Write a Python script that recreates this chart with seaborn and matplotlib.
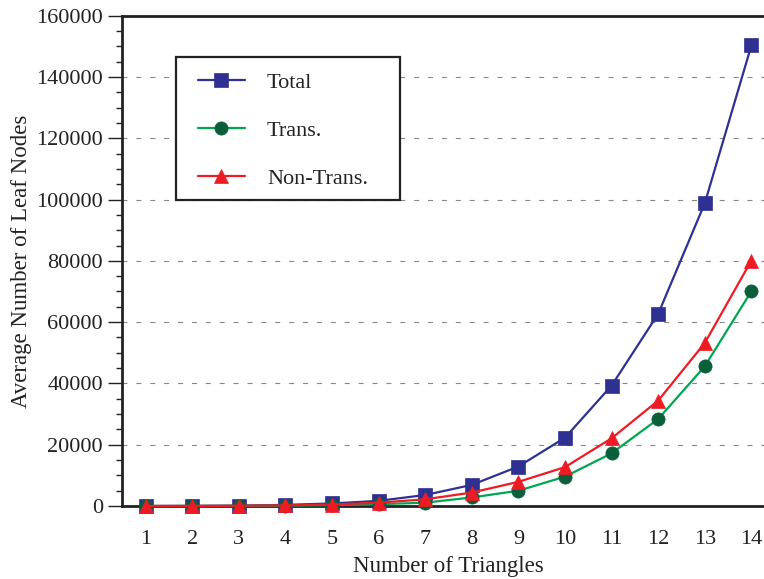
import matplotlib
matplotlib.use("Agg")
import matplotlib.pyplot as plt
import matplotlib.ticker as mticker
from matplotlib.patches import Rectangle
import seaborn as sns
import pandas as pd

# ---- data ----
triangles = [1, 2, 3, 4, 5, 6, 7, 8, 9, 10, 11, 12, 13, 14]
total = [20, 60, 150, 380, 850, 1700, 3600, 6900, 12900, 22300, 39300, 62700, 98800, 150300]
trans = [5, 20, 50, 130, 300, 600, 1100, 2800, 5000, 9600, 17200, 28400, 45600, 70100]
non_trans = [10, 40, 90, 230, 500, 1100, 2200, 4400, 7900, 12700, 22100, 34400, 53200, 80100]
series_names = ["Total", "Trans.", "Non-Trans."]
y_ticks = [0, 20000, 40000, 60000, 80000, 100000, 120000, 140000, 160000]

sns.set_theme(style="white")
plt.rcParams["font.family"] = ["Liberation Serif", "DejaVu Serif"]

fig = plt.figure(figsize=(7.64, 5.79), dpi=100)
ax = fig.add_axes([0.1601, 0.126, 0.8539, 0.847])

styles = [
    dict(color="#2E3192", marker="s", markerfacecolor="#2E3192", markeredgecolor="#2E3192", markersize=9.5),
    dict(color="#00A651", marker="o", markerfacecolor="#0B5E3A", markeredgecolor="#0B5E3A", markersize=9.5),
    dict(color="#ED1C24", marker="^", markerfacecolor="#ED1C24", markeredgecolor="#ED1C24", markersize=10.5),
]
values = [total, trans, non_trans]

for i, (name, vals, st) in enumerate(zip(series_names, values, styles)):
    df = pd.DataFrame({"x": triangles, "y": vals})
    sns.lineplot(data=df, x="x", y="y", ax=ax, label=name, linewidth=1.6,
                 markeredgewidth=0.5, clip_on=False, zorder=3 + i, **st)

ax.set_xlim(0.5, 14.5)
ax.set_ylim(0, 160000)

# x ticks: labels at categories, tick marks at boundaries
ax.set_xticks(triangles)
ax.set_xticklabels([str(t) for t in triangles])
ax.xaxis.set_minor_locator(mticker.FixedLocator([t + 0.5 for t in [0] + triangles]))
ax.tick_params(axis="x", which="major", length=0, pad=17.5, labelsize=16, colors="#222222")
ax.tick_params(axis="x", which="minor", direction="out", length=9, width=1.0, color="#222222")

ax.set_yticks(y_ticks)
ax.yaxis.set_major_formatter(mticker.FuncFormatter(lambda v, p: f"{int(v)}"))
ax.yaxis.set_minor_locator(mticker.MultipleLocator(5000))
ax.tick_params(axis="y", which="major", direction="out", length=10, width=1.0,
               color="#222222", pad=4, labelsize=16, labelcolor="#222222", left=True)
ax.tick_params(axis="y", which="minor", direction="out", length=4.5, width=1.0,
               color="#222222", left=True)

ax.yaxis.grid(True, which="major", linestyle=(0, (4.5, 8)), linewidth=0.8, color="#888888")
ax.xaxis.grid(False)
ax.set_axisbelow(True)

for s in ["left", "bottom", "top", "right"]:
    ax.spines[s].set_visible(True)
    ax.spines[s].set_color("#222222")
    ax.spines[s].set_linewidth(2.0)

ax.set_xlabel("Number of Triangles", fontsize=16.5, color="#222222", labelpad=5)
ax.set_ylabel("Average Number of Leaf Nodes", fontsize=16.5, color="#222222", labelpad=3)

leg = ax.legend(loc="upper left", bbox_to_anchor=(0.116, 0.885), borderaxespad=0,
                fontsize=16, frameon=False, borderpad=0, labelspacing=1.25,
                handlelength=2.1, handletextpad=1.0)
for t in leg.get_texts():
    t.set_color("#222222")

# legend frame box
ax.add_patch(Rectangle((0.082, 0.624), 0.344, 0.292, transform=ax.transAxes,
                       facecolor="white", edgecolor="#222222", linewidth=1.6,
                       zorder=9, clip_on=False))
leg.set_zorder(10)

fig.savefig("out.png", dpi=100)
